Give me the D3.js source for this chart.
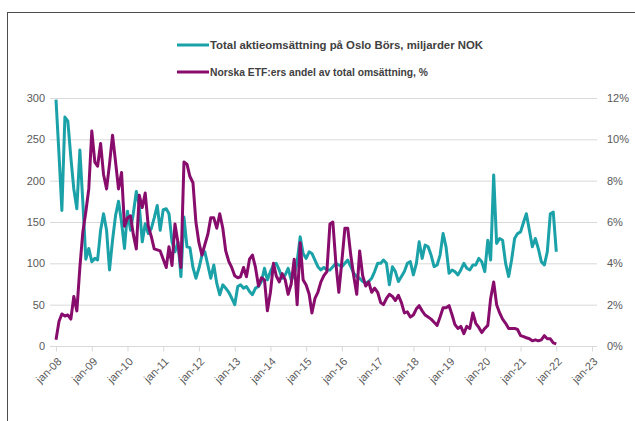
<!DOCTYPE html>
<html>
<head>
<meta charset="utf-8">
<script src="https://cdn.jsdelivr.net/npm/d3@7"></script>
<style>
  body { margin: 0; background: #fff; }
  text { font-family: "Liberation Sans", Arial, sans-serif; }
</style>
</head>
<body>
<div class="chart"></div>
<script>
let width = 635;
let height = 421;

// monthly data, jan-08 .. jan-22
let startYear = 2008;
let turnover = [
  298, 231, 164, 277, 272, 228, 190, 166, 237, 175, 105, 118,
  102, 106, 104, 140, 160, 140, 92, 128, 158, 175, 150, 118,
  163, 140, 160, 187, 170, 126, 148, 136, 142, 155, 170, 140,
  165, 166, 160, 126, 114, 126, 84, 156, 120, 119, 95, 82,
  94, 110, 114, 98, 82, 98, 76, 62, 74, 70, 65, 58,
  50, 72, 74, 70, 72, 66, 62, 70, 72, 78, 94, 80,
  90, 98, 100, 92, 82, 86, 94, 80, 86, 102, 132, 112,
  106, 114, 112, 104, 96, 92, 95, 92, 92, 96, 100, 98,
  96, 100, 104, 96, 88, 84, 82, 78, 76, 78, 82, 90,
  100, 100, 104, 100, 74, 96, 90, 78, 84, 90, 100, 102,
  86, 100, 126, 106, 122, 120, 110, 96, 98, 110, 136, 120,
  88, 92, 90, 86, 92, 100, 94, 92, 98, 98, 106, 102,
  90, 128, 104, 207, 124, 130, 128, 100, 84, 104, 130, 136,
  138, 150, 160, 140, 120, 130, 118, 102, 98, 114, 160, 162,
  114
];
let etfShare = [
  0.3, 1.2, 1.55, 1.45, 1.5, 1.3, 2.4, 1.7, 3.8, 5.5, 6.5, 7.6,
  10.4, 8.9, 8.7, 9.8, 8.3, 7.6, 8.8, 10.2, 8.9, 7.6, 8.4, 5.8,
  6.2, 6.3, 5.4, 4.7, 7.3, 6.7, 7.4, 5.8, 5.3, 4.7, 4.65, 4.6,
  4.2, 3.8, 4.8, 3.9, 5.9, 5.0, 3.8, 8.9, 8.8, 8.2, 7.9, 6.0,
  5.0, 4.4, 4.9, 5.4, 6.2, 6.2, 5.7, 6.4, 5.7, 4.6, 4.1, 3.8,
  3.4, 3.3, 3.35, 3.8, 3.35, 4.2, 4.4, 3.8, 2.9, 3.3, 3.2, 1.7,
  2.6, 4.0, 3.4, 3.1, 3.5, 3.2, 2.5, 3.0, 4.2, 2.0, 5.0, 3.2,
  2.95, 2.5, 1.6, 2.3, 2.6, 3.1, 3.4, 3.6, 5.9, 6.0, 4.0, 2.6,
  4.1, 5.7, 5.7, 4.4, 3.4, 2.5, 4.6, 3.4, 2.9, 3.1, 2.6, 2.8,
  2.6, 2.1, 2.0, 2.3, 2.5, 2.4, 2.2, 2.45, 2.1, 1.6, 1.65, 1.4,
  1.5, 1.8, 1.95, 1.7, 1.5, 1.4, 1.3, 1.15, 1.0, 1.4, 1.85, 1.85,
  1.95, 1.5, 1.05, 0.85, 0.95, 0.6, 0.95, 0.85, 1.6, 1.1, 0.9, 0.65,
  0.85, 1.0, 2.3, 3.1, 2.0, 1.6, 1.3, 1.1, 0.85, 0.85, 0.85, 0.8,
  0.5, 0.45, 0.4, 0.35, 0.25, 0.3, 0.25, 0.3, 0.5, 0.35, 0.35, 0.15,
  0.1
];
let leftTicks = [0, 50, 100, 150, 200, 250, 300];
let rightTicks = [0, 2, 4, 6, 8, 10, 12];
let yearTicks = d3.range(2008, 2024);
let seriesNames = ['Total aktieomsättning på Oslo Börs, miljarder NOK',
                   'Norska ETF:ers andel av total omsättning, %'];
let colors = ['#1ba1a8', '#870c6c'];

let svg = d3.select('.chart')
            .append('svg')
            .attr('width', width)
            .attr('height', height);

// outer frame
svg.append('rect')
   .attr('x', 7.5).attr('y', 12.5)
   .attr('width', 700).attr('height', 500)
   .attr('fill', 'none')
   .attr('stroke', '#4d4d4d')
   .attr('stroke-width', 1);

let dateOf = i => new Date(startYear, i, 1);

let xScale = d3.scaleTime()
               .domain([new Date(2008, 0, 1), new Date(2023, 0, 1)])
               .range([56, 592]);
let yLeft = d3.scaleLinear().domain([0, 300]).range([346, 98]);
let yRight = d3.scaleLinear().domain([0, 12]).range([346, 98]);

// grid
svg.append('g')
   .selectAll('line')
   .data(leftTicks)
   .enter()
   .append('line')
   .attr('x1', 50).attr('x2', 597)
   .attr('y1', d => yLeft(d) + 0.5)
   .attr('y2', d => yLeft(d) + 0.5)
   .attr('stroke', '#d9d9d9')
   .attr('stroke-width', 1);

// x axis
let xAxis = d3.axisBottom(xScale)
              .tickValues(yearTicks.map(y => new Date(y, 0, 1)))
              .tickFormat(d3.timeFormat('jan-%y'))
              .tickSize(5)
              .tickSizeOuter(0);
let gx = svg.append('g')
            .attr('transform', 'translate(0,' + 346.5 + ')')
            .call(xAxis);
gx.select('.domain').remove();
gx.selectAll('line').attr('stroke', '#d9d9d9');
gx.selectAll('text')
  .attr('fill', '#595959')
  .style('font-size', '11px')
  .style('text-anchor', 'end')
  .attr('x', 0).attr('y', 0).attr('dy', '0.35em')
  .attr('transform', 'translate(3,13) rotate(-45)');

// left axis
let gl = svg.append('g')
            .attr('transform', 'translate(50,0)')
            .call(d3.axisLeft(yLeft).tickValues(leftTicks).tickSize(0).tickPadding(5));
gl.select('.domain').remove();
gl.selectAll('text').attr('fill', '#595959').style('font-size', '11px');

// right axis
let gr = svg.append('g')
            .attr('transform', 'translate(597,0)')
            .call(d3.axisRight(yRight).tickValues(rightTicks).tickSize(0).tickPadding(10)
                    .tickFormat(d => d + '%'));
gr.select('.domain').remove();
gr.selectAll('text').attr('fill', '#595959').style('font-size', '11px');

// lines
let lineLeft = d3.line()
                 .x((d, i) => xScale(dateOf(i)))
                 .y(d => yLeft(d));
let lineRight = d3.line()
                  .x((d, i) => xScale(dateOf(i)))
                  .y(d => yRight(d));

svg.append('path')
   .datum(turnover)
   .attr('d', lineLeft)
   .attr('fill', 'none')
   .attr('stroke', colors[0])
   .attr('stroke-width', 3)
   .attr('stroke-linejoin', 'round');
svg.append('path')
   .datum(etfShare)
   .attr('d', lineRight)
   .attr('fill', 'none')
   .attr('stroke', colors[1])
   .attr('stroke-width', 3)
   .attr('stroke-linejoin', 'round');

// legend
let legend = svg.append('g')
                .selectAll('g')
                .data(seriesNames)
                .enter()
                .append('g')
                .attr('transform', (d, i) => 'translate(0,' + (45 + i * 27) + ')');
legend.append('line')
      .attr('x1', 177).attr('x2', 209)
      .attr('y1', 0).attr('y2', 0)
      .attr('stroke', (d, i) => colors[i])
      .attr('stroke-width', 3);
legend.append('text')
      .attr('x', 210)
      .attr('y', 0)
      .attr('dy', '0.35em')
      .attr('fill', '#404040')
      .style('font-size', '11px')
      .style('font-weight', 'bold')
      .attr('textLength', (d, i) => i == 0 ? 273 : 218)
      .attr('lengthAdjust', 'spacingAndGlyphs')
      .text(d => d);
</script>
</body>
</html>
